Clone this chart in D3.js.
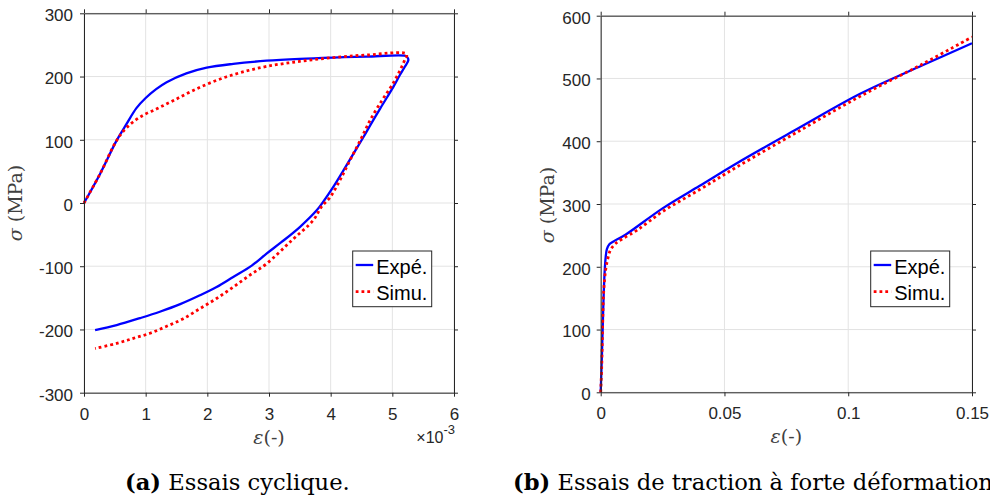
<!DOCTYPE html>
<html>
<head>
<meta charset="utf-8">
<script src="https://cdn.jsdelivr.net/npm/d3@7"></script>
<style>
  body { margin: 0; background: #fff; }
  .tick text { font-family: "Liberation Sans", Arial, sans-serif; font-size: 17px; fill: #262626; }
  .axis path, .axis line { stroke: #262626; }
  .grid line { stroke: #e3e3e3; }
  .axLabel { font-family: "DejaVu Serif", serif; font-size: 19px; fill: #404040; }
  .legText { font-family: "Liberation Sans", Arial, sans-serif; font-size: 20px; fill: #000; }
  .caption { font-family: "DejaVu Serif", serif; fill: #000; }
</style>
</head>
<body>
<div id="chart"></div>
<script>
// strain in 1e-3, stress in MPa (cyclic test)
var cycExp = [[0,0],[0.26,46],[0.53,99],[0.69,125],[0.85,150],[1.0,166],[1.17,180],[1.34,191],[1.66,205],[1.99,214],
  [2.42,220],[2.96,225],[3.5,228],[4.04,230],[4.58,231.5],[5.2,233],[5.24,231],[5.26,226],[5.2,215],[5.12,202],
  [5.03,186],[4.92,168],[4.8,149],[4.66,126],[4.53,104],[4.37,78],[4.21,52],[4.04,25],[3.88,2],
  [3.77,-12],[3.5,-38],[3.2,-62],[2.96,-80],[2.72,-99],[2.42,-117],[2.15,-133],[1.88,-146],[1.56,-160],
  [1.23,-172],[0.91,-182],[0.53,-193],[0.18,-201]];
var cycSim = [[0,0],[0.26,46],[0.53,99],[0.69,119],[0.91,136],[1.18,149],[1.45,162],[1.77,178],[2.15,194],
  [2.53,206],[2.96,216],[3.5,224],[4.04,230],[4.58,234],[5.23,235.5],[5.2,226],[5.15,215],[5.1,205],[5.04,194],
  [4.96,181],[4.83,162],[4.64,131],[4.48,99],[4.31,67],[4.15,36],[3.99,9],[3.85,-6],[3.72,-27],[3.37,-59],
  [2.96,-96],[2.69,-114],[2.42,-133],[2.15,-151],[1.88,-167],[1.61,-183],[1.34,-195],[1.07,-206],[0.8,-214],
  [0.53,-222],[0.18,-230]];

// strain (-), stress in MPa (large strain tensile test)
var tracExp = [[0,0],[0.0005,60],[0.001,130],[0.0015,185],[0.002,215],[0.0025,228],[0.0035,236],[0.005,240],
  [0.01,251],[0.025,293],[0.04,329],[0.055,365],[0.08,421],[0.105,476],[0.13,521],[0.15,556]];
var tracSim = [[0,0],[0.0004,40],[0.0008,110],[0.0012,160],[0.002,195],[0.003,215],[0.004,227],[0.006,237],
  [0.009,245],[0.015,259],[0.025,288],[0.04,323],[0.055,359],[0.08,416],[0.105,472],[0.13,523],[0.15,566]];

var xTicksA = [0,1,2,3,4,5,6];
var yTicksA = [-300,-200,-100,0,100,200,300];
var xTicksB = [0,0.05,0.1,0.15];
var yTicksB = [0,100,200,300,400,500,600];
var seriesNames = ["Expé.", "Simu."];
var captionA = "Essais cyclique.";
var captionB = "Essais de traction à forte déformation.";

var W = 990, H = 501;
var svg = d3.select("#chart").append("svg")
  .attr("width", W).attr("height", H);

function panel(cfg) {
  var x = d3.scaleLinear().domain(cfg.xDomain).range([cfg.left, cfg.right]);
  var y = d3.scaleLinear().domain(cfg.yDomain).range([cfg.bottom, cfg.top]);
  var g = svg.append("g");

  //grid
  var grid = g.append("g").attr("class", "grid");
  grid.selectAll(".gx").data(cfg.xTicks).enter().append("line")
    .attr("x1", d => x(d)).attr("x2", d => x(d))
    .attr("y1", cfg.top).attr("y2", cfg.bottom);
  grid.selectAll(".gy").data(cfg.yTicks).enter().append("line")
    .attr("y1", d => y(d)).attr("y2", d => y(d))
    .attr("x1", cfg.left).attr("x2", cfg.right);

  //curves
  var line = d3.line().x(d => x(d[0])).y(d => y(d[1])).curve(d3.curveCatmullRom.alpha(0.5));
  g.append("path").datum(cfg.exp)
    .attr("d", line).attr("fill", "none")
    .attr("stroke", "#0000ff").attr("stroke-width", 2.3).attr("stroke-linejoin", "round");
  g.append("path").datum(cfg.sim)
    .attr("d", line).attr("fill", "none")
    .attr("stroke", "#ff0000").attr("stroke-width", 2.8)
    .attr("stroke-dasharray", "2.8,3");

  //axes (box with outward ticks)
  g.append("g").attr("class", "axis")
    .attr("transform", "translate(0," + cfg.bottom + ")")
    .call(d3.axisBottom(x).tickValues(cfg.xTicks).tickFormat(cfg.xFormat).tickSizeInner(4).tickSizeOuter(0).tickPadding(11));
  g.append("g").attr("class", "axis")
    .attr("transform", "translate(0," + cfg.top + ")")
    .call(d3.axisTop(x).tickValues(cfg.xTicks).tickFormat("").tickSizeInner(4).tickSizeOuter(0));
  var ya = g.append("g").attr("class", "axis")
    .attr("transform", "translate(" + cfg.left + ",0)")
    .call(d3.axisLeft(y).tickValues(cfg.yTicks).tickFormat(d => String(d)).tickSizeInner(4).tickSizeOuter(0).tickPadding(cfg.yPad));
  ya.selectAll(".tick text").attr("dy", "0.43em");
  g.append("g").attr("class", "axis")
    .attr("transform", "translate(" + cfg.right + ",0)")
    .call(d3.axisRight(y).tickValues(cfg.yTicks).tickFormat("").tickSizeInner(4).tickSizeOuter(0));
  g.selectAll(".axis .domain").attr("stroke", "#404040");

  //labels
  g.append("text").attr("class", "axLabel")
    .attr("transform", "translate(" + cfg.yLabelX + "," + cfg.yLabelY + ") rotate(-90)")
    .attr("text-anchor", "middle")
    .html('<tspan font-style="italic">σ</tspan> (MPa)');
  g.append("text").attr("class", "axLabel")
    .attr("x", (cfg.left + cfg.right) / 2).attr("y", cfg.bottom + 51)
    .attr("text-anchor", "middle")
    .html('<tspan font-style="italic">ε</tspan>(-)');

  //legend
  var lx = cfg.right - 101.3, ly = 251;
  var leg = g.append("g").attr("transform", "translate(" + lx + "," + ly + ")");
  leg.append("rect").attr("width", 79).attr("height", 55.7)
    .attr("fill", "#fff").attr("stroke", "#262626").attr("stroke-width", 1);
  var styles = [
    {stroke: "#0000ff", w: 2.3, dash: null},
    {stroke: "#ff0000", w: 2.8, dash: "2.8,3"}
  ];
  seriesNames.forEach(function(name, i) {
    var cy = 14 + i * 26.7;
    leg.append("line").attr("x1", 3).attr("x2", 20.5).attr("y1", cy).attr("y2", cy)
      .attr("stroke", styles[i].stroke).attr("stroke-width", styles[i].w)
      .attr("stroke-dasharray", styles[i].dash);
    leg.append("text").attr("class", "legText").attr("x", 23.5).attr("y", cy + 8.5).text(name);
  });
  return g;
}

var gA = panel({
  left: 84, right: 454, top: 13.3, bottom: 392.7,
  xDomain: [0, 6], yDomain: [-300, 300],
  xTicks: xTicksA, yTicks: yTicksA, xFormat: d => String(d), yPad: 7,
  exp: cycExp, sim: cycSim, yLabelX: 22, yLabelY: 203
});
//exponent label
gA.append("text")
  .attr("x", 455).attr("y", 443)
  .attr("text-anchor", "end")
  .style("font-family", "'Liberation Sans', Arial, sans-serif").style("font-size", "16px").style("fill", "#262626")
  .html('×10<tspan dy="-9" font-size="13px">-3</tspan>');

panel({
  left: 600.7, right: 972, top: 15.7, bottom: 392.3,
  xDomain: [0, 0.15], yDomain: [0, 600],
  xTicks: xTicksB, yTicks: yTicksB, xFormat: d => String(+d.toFixed(2)), yPad: 6,
  exp: tracExp, sim: tracSim, yLabelX: 554, yLabelY: 205
});

//captions, sized so caption (a) spans the same width as the original
var capA = svg.append("text").attr("class", "caption").attr("x", 125).attr("y", 490).style("font-size", "20px");
capA.append("tspan").attr("font-weight", "bold").text("(a)");
capA.append("tspan").text(" " + captionA);
var fs = 20 * 225 / capA.node().getComputedTextLength();
capA.style("font-size", fs + "px");
var capB = svg.append("text").attr("class", "caption").attr("x", 513).attr("y", 490).style("font-size", fs + "px");
capB.append("tspan").attr("font-weight", "bold").text("(b)");
capB.append("tspan").text(" " + captionB);
</script>
</body>
</html>
